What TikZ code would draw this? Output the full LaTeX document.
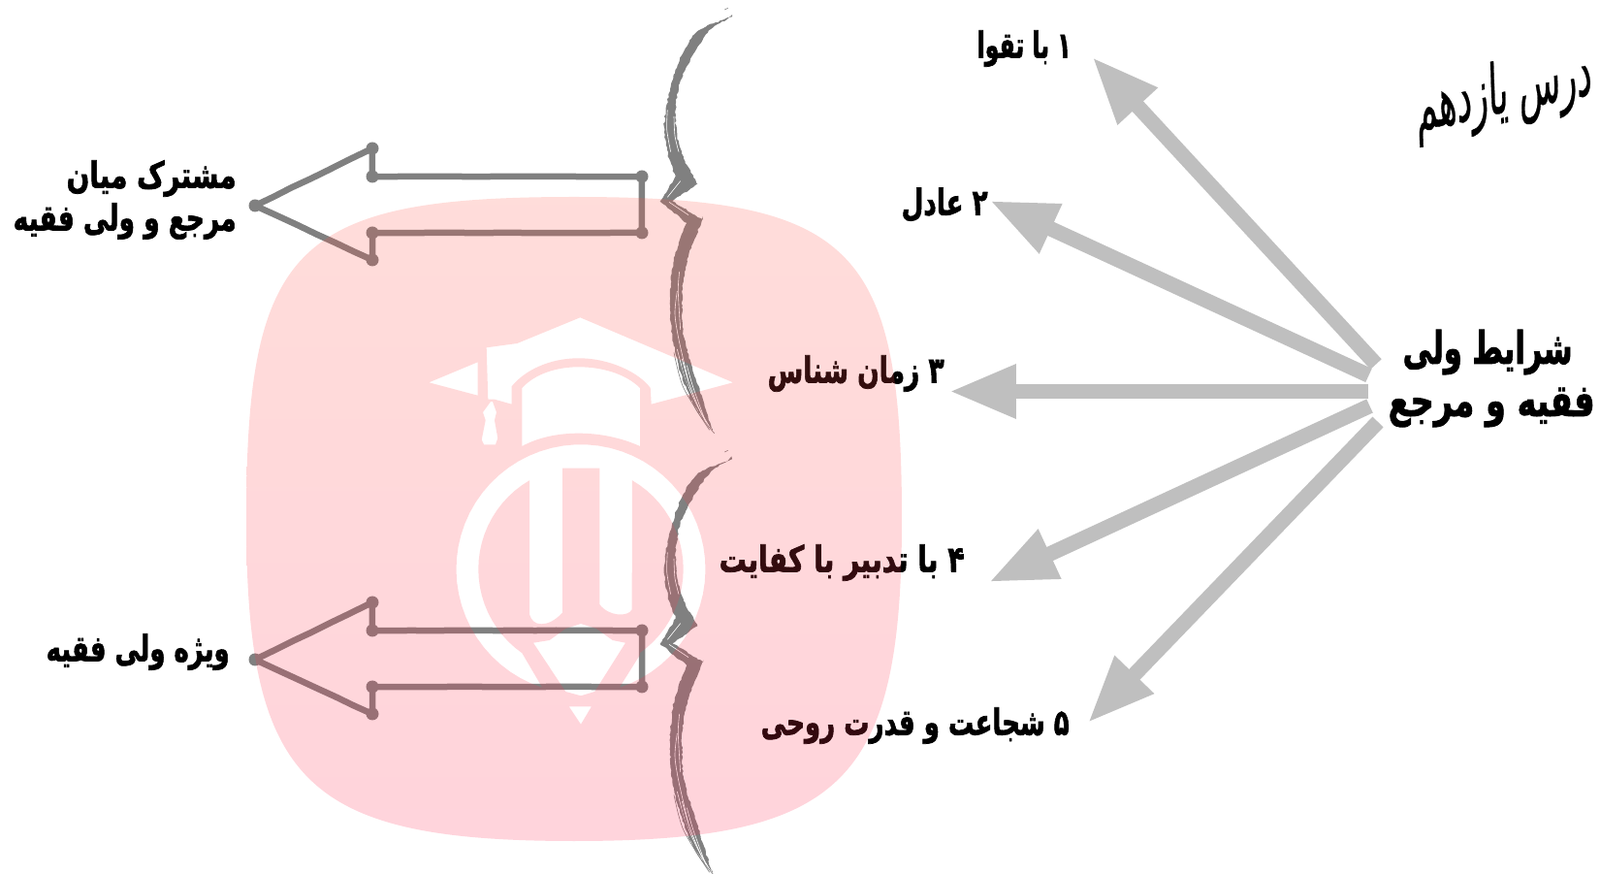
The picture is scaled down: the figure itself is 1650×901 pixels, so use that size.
\documentclass[tikz,border=0pt]{standalone}
\usepackage{fontspec}
\usepackage{graphicx}
\usetikzlibrary{arrows.meta,decorations.pathmorphing}
\TeXXeTstate=1
\newfontfamily\arabicbold[Script=Arabic,FakeBold=2]{DejaVu Sans Bold}
\newfontfamily\titlefont[Script=Arabic,FakeSlant=0.35,FakeBold=0.6]{DejaVu Sans}
\newcommand{\fa}[2]{\resizebox{#1cm}{1.25\height}{\arabicbold #2}}
\definecolor{shaftgrey}{HTML}{BFBFBF}
\definecolor{sketchgrey}{HTML}{808080}
\definecolor{wmtop}{RGB}{255,85,70}
\definecolor{wmbot}{RGB}{255,40,80}
\tikzset{
  rayarrow/.style={draw=shaftgrey,line width=0.31cm,-{Triangle[length=1.38cm,width=1.04cm]}},
  lab/.style={inner sep=0pt,anchor=east,text=black,font=\fontsize{17}{20}\selectfont},
  biglab/.style={inner sep=0pt,anchor=east,text=black,font=\fontsize{21}{24}\selectfont},
  hollow/.style={draw=sketchgrey,line width=0.13cm,line join=round,line cap=round,decorate,decoration={random steps,segment length=12pt,amplitude=0.15pt}},
  cornerdot/.style={fill=sketchgrey},
  strk/.style={white,line width=0.012cm},
  hair/.style={sketchgrey,line width=0.012cm}
}
\newcommand{\sketchbrace}[1]{%
\begin{scope}[shift={(660,#1)},x=0.006667cm,y=-0.006667cm]
 \fill[sketchgrey,decorate,decoration={random steps,segment length=1.6pt,amplitude=0.45pt}]
  plot[smooth] coordinates {(285,52) (220,90) (170,160) (125,250) (110,340) (115,420) (135,490) (178,568)}
  -- (100,622) -- (195,680)
  -- plot[smooth] coordinates {(195,680) (160,760) (135,860) (130,950) (135,1040) (160,1130) (185,1210) (225,1335)}
  -- plot[smooth] coordinates {(225,1335) (165,1250) (125,1150) (100,1040) (93,930) (100,830) (120,750) (145,690)}
  -- (62,623) -- (110,545)
  -- plot[smooth] coordinates {(110,545) (90,490) (75,410) (80,340) (100,250) (130,170) (180,95) (285,52)} -- cycle;
 \draw[strk] plot[smooth] coordinates {(85,340) (83,400) (95,470)};
 \draw[strk] plot[smooth] coordinates {(105,360) (108,420) (120,470)};
 \draw[strk] (125,560) -- (85,610);
 \draw[strk] (90,625) -- (150,665);
 \draw[strk] plot[smooth] coordinates {(115,900) (108,970) (120,1050) (150,1180)};
 \draw[strk] plot[smooth] coordinates {(122,840) (118,900) (125,1020)};
 \draw[strk] plot[smooth] coordinates {(130,1110) (150,1180) (190,1280) (225,1335)};
 \draw[strk] plot[smooth] coordinates {(115,1080) (140,1170) (175,1250) (215,1320)};
 \draw[strk] plot[smooth] coordinates {(145,1130) (165,1200) (205,1310)};
 \draw[hair] plot[smooth] coordinates {(130,1130) (170,1260) (230,1340)};
 \draw[hair] plot[smooth] coordinates {(105,1090) (135,1200) (215,1330)};
 \draw[hair] (262,30) -- (272,25);
\end{scope}}
\newcommand{\hollowarrow}[1]{%
\begin{scope}[shift={(0,#1)}]
 \draw[hollow] (263,212) -- (384,153) -- (384,182) -- (662,182) -- (662,240) -- (384,240) -- (384,268) -- cycle;
 \foreach \p in {(263,212),(384,153),(384,182),(662,182),(662,240),(384,240),(384,268)} \fill[cornerdot] \p circle (6.5);
\end{scope}}
\begin{document}
\begin{tikzpicture}[x=0.02cm,y=-0.02cm]
\useasboundingbox (0,0) rectangle (1650,901);
\fill[white] (0,0) rectangle (1650,901);

% title
\node[inner sep=0pt,rotate=12,text=black] (title) at (1548,98) {\fontsize{30}{34}\selectfont\resizebox{3.7cm}{1.35\height}{\titlefont\beginR درس یازدهم\endR}};

% source labels
\node[biglab] (src1) at (1622,363) {\fa{3.5}{\beginR شرایط ولی\endR}};
\node[biglab] (src2) at (1645,420) {\fa{4.26}{\beginR فقیه  و مرجع\endR}};

% numbered labels
\node[lab] (c1) at (1105,50) {\fa{1.94}{\beginR ۱ با تقوا\endR}};
\node[lab] (c2) at (1019,211) {\fa{1.78}{\beginR ۲ عادل\endR}};
\node[lab] (c3) at (974,385) {\fa{3.64}{\beginR ۳ زمان شناس\endR}};
\node[lab] (c4) at (995,580) {\fa{5.06}{\beginR ۴ با تدبیر با کفایت\endR}};
\node[lab] (c5) at (1103,748) {\fa{6.36}{\beginR ۵ شجاعت و قدرت روحی\endR}};

% side labels
\node[lab] (m1) at (244,184) {\fa{3.5}{\beginR مشترک میان\endR}};
\node[lab] (m2) at (244,228) {\fa{4.6}{\beginR مرجع و ولی فقیه\endR}};
\node[lab] (v1) at (237,672) {\fa{3.78}{\beginR ویژه ولی فقیه\endR}};

% fan of arrows
\coordinate (s1) at (1419,375.5); \coordinate (t1) at (1126.5,59);
\coordinate (s2) at (1411.5,387); \coordinate (t2) at (1021,207);
\coordinate (s3) at (1411,403.5); \coordinate (t3) at (979,403.5);
\coordinate (s4) at (1412.5,418.5); \coordinate (t4) at (1020,600);
\coordinate (s5) at (1421,435); \coordinate (t5) at (1122,745);
\draw[rayarrow] (s1) -- (t1);
\draw[rayarrow] (s2) -- (t2);
\draw[rayarrow] (s3) -- (t3);
\draw[rayarrow] (s4) -- (t4);
\draw[rayarrow] (s5) -- (t5);

% hollow arrows and braces
\hollowarrow{0}
\hollowarrow{468}
\sketchbrace{0}
\sketchbrace{456}

% watermark, with the logo cut out
\shade[top color=wmtop,bottom color=wmbot,opacity=0.2,even odd rule]
 (592,203) .. controls (879.3,203) and (930,252.8) .. (930,535)
 .. controls (930,807) and (869,867) .. (592,867)
 .. controls (315,867) and (254,807) .. (254,535)
 .. controls (254,252.8) and (304.7,203) .. (592,203) -- cycle
 % cap
 (598.3,327.3) -- (756,394.3) -- (671.7,416.7) -- (670.7,400)
 .. controls (660,385) and (630,369.3) .. (596.7,369.3)
 .. controls (565,369.3) and (540,383) .. (527.7,398.3)
 -- (527.7,416.7) -- (510,411.7) -- (503.3,411.7) -- (501.7,358.3) -- (533.3,354) -- cycle
 % wing
 (442.3,394.3) -- (492.7,373.3) -- (492.7,407.7) -- cycle
 % tassel
 (506,414) -- (498,425) -- (500.7,433.3) -- (496.7,453.3) -- (499,458.3) -- (511,458.3) -- (513.3,451.7) -- (510,433.3) -- (512,425) -- (508,414) -- cycle
 % cap body
 (538.3,460) -- (538.3,400) .. controls (552,385) and (575,378.3) .. (596.7,378.3)
 .. controls (620,378.3) and (645,385) .. (660,400)
 -- (660,460) .. controls (640,451) and (618,446.7) .. (596.7,446.7)
 .. controls (575,446.7) and (555,451) .. (538.3,460) -- cycle
 % ring with two bars
 plot[domain=108:432,samples=60] ({599+128.5*cos(\x)},{586.7+128.5*sin(\x)})
 -- (660,675)
 -- plot[domain=55:-60,samples=24] ({599+105.7*cos(\x)},{586.7+105.7*sin(\x)})
 -- (651.7,628.3) .. controls (648,636) and (628,636) .. (618.3,623)
 -- (618.3,482.7) -- (580,482.7) -- (580,631.7)
 .. controls (572,640) and (565,643.3) .. (558.3,643.3)
 .. controls (552,643.3) and (548,640) .. (546,633.3)
 -- plot[domain=240:125,samples=24] ({599+105.7*cos(\x)},{586.7+105.7*sin(\x)})
 -- cycle
 % pencil body
 (550,662.7) -- (566.7,660) -- (583.3,648) -- (599,643) -- (615,648) -- (631.7,660) -- (645,662.7)
 -- (613.3,713) -- (599,717.3) -- (583.3,713) -- cycle
 % pencil tip
 (586.7,728.3) -- (610,728.3) -- (599,746.7) -- cycle;
\end{tikzpicture}
\end{document}
